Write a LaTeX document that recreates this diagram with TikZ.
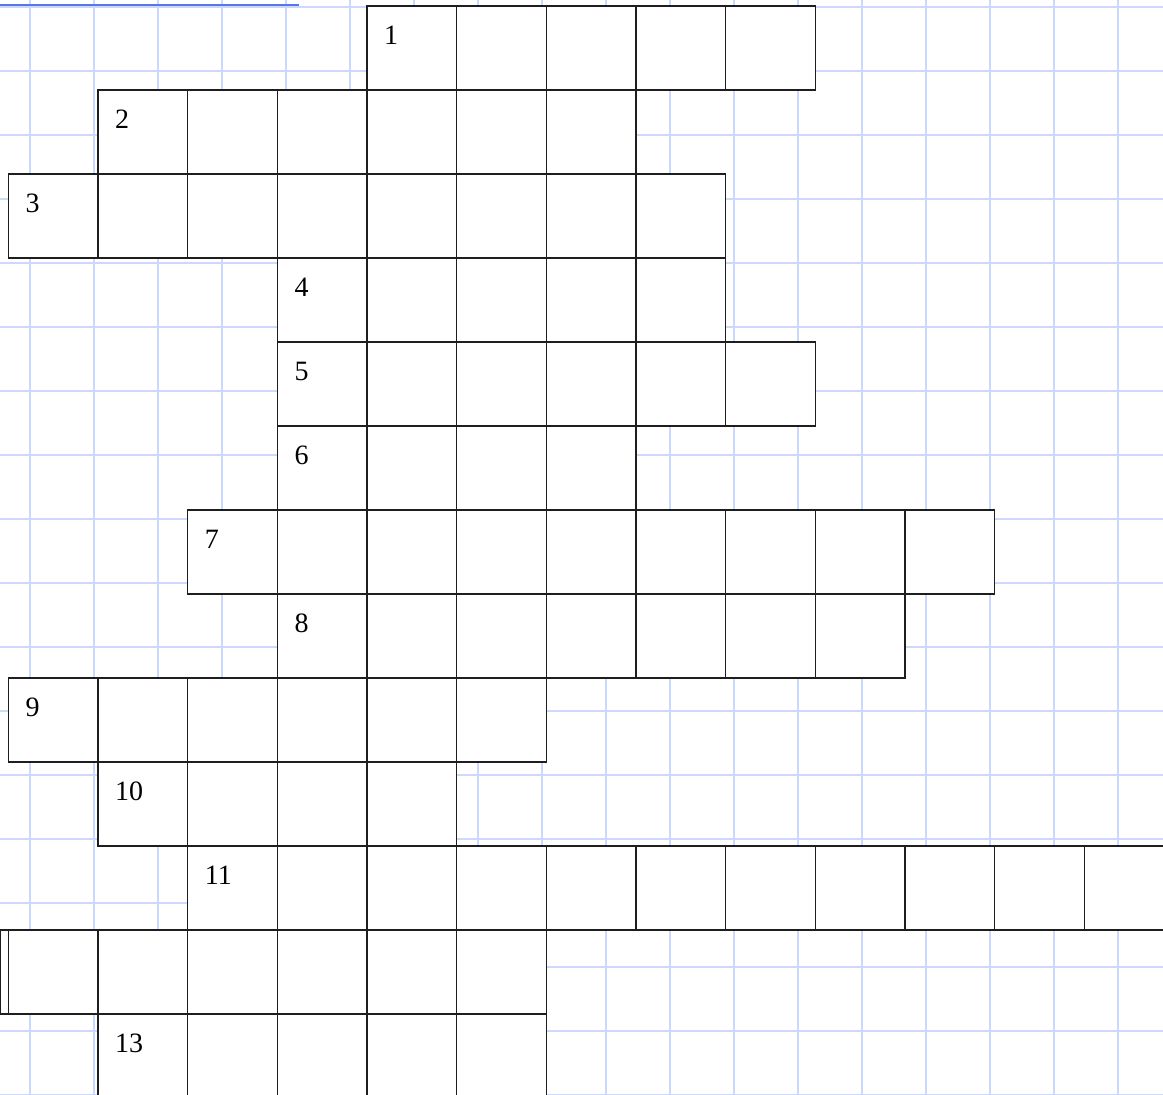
\documentclass[tikz,border=0pt]{standalone}
\usepackage{fontspec}
\setmainfont{Liberation Serif}
\definecolor{gridblue}{RGB}{204,217,252}
\definecolor{topblue}{RGB}{90,118,235}
\definecolor{cellline}{RGB}{30,30,30}
\tikzset{
  cellbox/.style={draw=cellline, line width=1.2pt, fill=white, rectangle,
    minimum width=89.67pt, minimum height=84pt, inner sep=0pt, outer sep=0pt},
  numlabel/.style={anchor=base west, inner sep=0pt, font=\fontsize{28}{28}\selectfont},
  gridline/.style={draw=gridblue, line width=1.3pt},
}
\begin{document}
\begin{tikzpicture}[x=1pt,y=-1pt]
\useasboundingbox (0,0) rectangle (1163,1095);
\clip (0,0) rectangle (1163,1095);
\fill[white] (0,0) rectangle (1163,1095);
% background squared paper
\foreach \k in {0,...,17}{
  \draw[gridline] ({30+64*\k},0) -- ({30+64*\k},1095);
  \draw[gridline] (0,{7+64*\k}) -- (1163,{7+64*\k});
}
\draw[topblue, line width=2pt] (0,4.5) -- (299,4.5);
% crossword cells
\foreach \r/\a/\b in {0/4/8, 1/1/6, 2/0/7, 3/3/7, 4/3/8, 5/3/6, 6/2/10, 7/3/9, 8/0/5, 9/1/4, 10/2/12, 11/0/5, 12/1/5}{
  \foreach \c in {\a,...,\b}{
    \node[cellbox] (c\r-\c) at ({8.3+89.67*(\c+0.5)},{6+84*(\r+0.5)}) {};
  }
}
\node[cellbox, minimum width=7.8pt] (c11-m) at (4.4,972) {};
% clue numbers
\foreach \r/\c/\n in {0/4/1, 1/1/2, 2/0/3, 3/3/4, 4/3/5, 5/3/6, 6/2/7, 7/3/8, 8/0/9, 9/1/10, 10/2/11, 12/1/13}{
  \node[numlabel] (n\n) at ([shift={(17,38.5)}]c\r-\c.north west) {\n};
}
\end{tikzpicture}
\end{document}
